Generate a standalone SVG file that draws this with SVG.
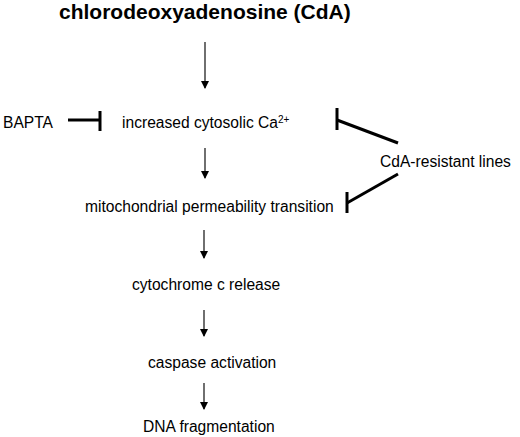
<svg xmlns="http://www.w3.org/2000/svg" width="520" height="437" viewBox="0 0 520 437">
<style>
text{font-family:"Liberation Sans",Arial,sans-serif;font-size:15.6px;fill:#000}
.title{font-size:21px;font-weight:bold}
.arr{stroke:#222;stroke-width:1.3;fill:none;marker-end:url(#ah)}
.inh{stroke:#000;stroke-width:3;fill:none;stroke-linecap:butt}
</style>
<defs>
<marker id="ah" markerWidth="8" markerHeight="10" refX="7" refY="4" orient="auto" markerUnits="userSpaceOnUse">
<path d="M0,0 L8,4 L0,8 Z" fill="#000" transform="translate(0,0)"/>
</marker>
</defs>
<rect width="520" height="437" fill="#fff"/>
<g id="cda"><text class="title" x="59" y="19">chlorodeoxyadenosine (CdA)</text></g>
<g id="bapta"><text x="3" y="128">BAPTA</text></g>
<g id="calcium"><text x="122" y="128">increased cytosolic Ca<tspan font-size="10" dy="-5">2+</tspan></text></g>
<g id="resistant"><text x="380" y="167">CdA-resistant lines</text></g>
<g id="mpt"><text x="85" y="212">mitochondrial permeability transition</text></g>
<g id="cytc"><text x="132" y="290">cytochrome c release</text></g>
<g id="caspase"><text x="148" y="368">caspase activation</text></g>
<g id="dna"><text x="143" y="432">DNA fragmentation</text></g>
<g id="connectors">
<line class="arr" x1="205" y1="42" x2="205" y2="88"/>
<line class="arr" x1="205" y1="148" x2="205" y2="178"/>
<line class="arr" x1="204" y1="230" x2="204" y2="258"/>
<line class="arr" x1="204" y1="310" x2="204" y2="336"/>
<line class="arr" x1="204" y1="383" x2="204" y2="409"/>
<line class="inh" x1="68" y1="120" x2="100" y2="120"/>
<line class="inh" x1="100" y1="111" x2="100" y2="131"/>
<line class="inh" x1="398" y1="143" x2="337" y2="120"/>
<line class="inh" x1="337" y1="108" x2="337" y2="130"/>
<line class="inh" x1="398" y1="174" x2="347" y2="203"/>
<line class="inh" x1="347" y1="192" x2="347" y2="213"/>
</g>
</svg>
